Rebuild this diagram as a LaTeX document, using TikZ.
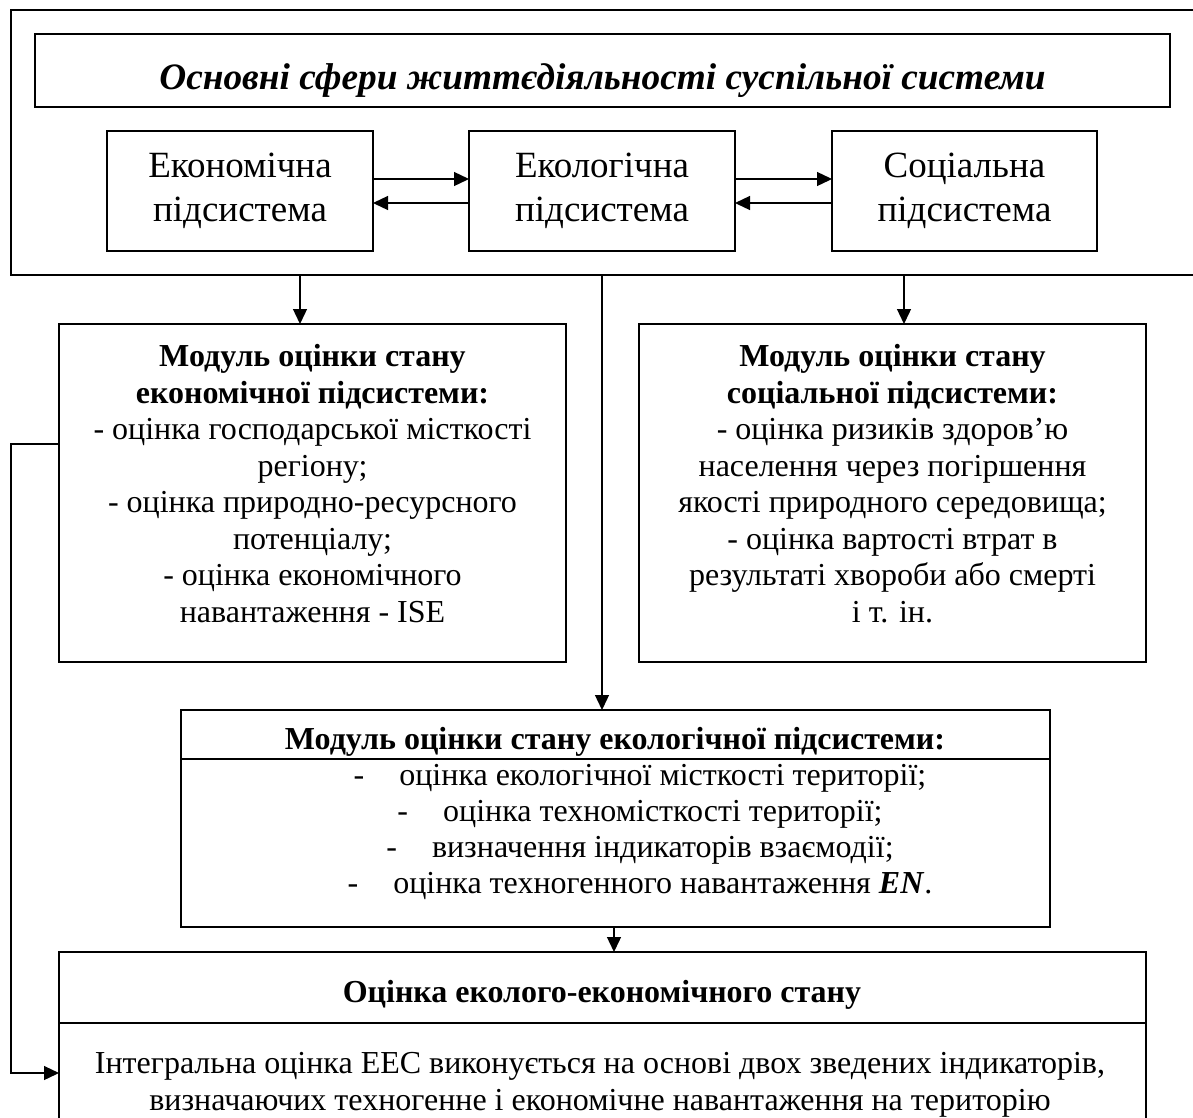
\documentclass[tikz,border=0pt]{standalone}
\usepackage{fontspec}
\setmainfont{Liberation Serif}
\usetikzlibrary{arrows.meta}
\newcommand\fsTitle{\fontsize{37.3}{44}\selectfont}
\newcommand\fsSub{\fontsize{37}{44}\selectfont}
\newcommand\fsBody{\fontsize{32}{36.45}\selectfont}
\newcommand\fsList{\fontsize{32}{36}\selectfont}
\tikzset{
  box/.style={draw, line width=1.3pt, rectangle, inner sep=0pt, outer sep=0pt},
  txt/.style={inner sep=0pt, outer sep=0pt, align=center, anchor=base},
  arr/.style={line width=1.3pt, -{Triangle[length=15pt,width=14pt]}},
  ln/.style={line width=1.3pt}
}
\begin{document}
\begin{tikzpicture}[x=1pt, y=-1pt]
\useasboundingbox (0,0) rectangle (1193,1117);
% outer frame (right side beyond picture)
\node[box, minimum width=1194pt, minimum height=265pt] (outer) at (608,142.5) {};
\node[box, minimum width=1135pt, minimum height=73pt] (titleBox) at (602.5,70.5) {};
\node[txt, font=\fsTitle\bfseries\itshape] (titleTxt) at (602.5,89) {Основні сфери життєдіяльності суспільної системи};
% subsystems
\node[box, minimum width=266pt, minimum height=120pt] (econ) at (240,191) {};
\node[box, minimum width=266pt, minimum height=120pt] (eco) at (602,191) {};
\node[box, minimum width=265pt, minimum height=120pt] (soc) at (964.5,191) {};
\node[txt, font=\fsSub] (econTxt) at (240,221) {Економічна\\підсистема};
\node[txt, font=\fsSub] (ecoTxt) at (602,221) {Екологічна\\підсистема};
\node[txt, font=\fsSub] (socTxt) at (964.5,221) {Соціальна\\підсистема};
\draw[arr] (econ.east |- 0,179) -- (eco.west |- 0,179);
\draw[arr] (eco.west |- 0,203) -- (econ.east |- 0,203);
\draw[arr] (eco.east |- 0,179) -- (soc.west |- 0,179);
\draw[arr] (soc.west |- 0,203) -- (eco.east |- 0,203);
% modules
\node[box, minimum width=507pt, minimum height=338pt] (econMod) at (312.5,493) {};
\node[box, minimum width=507pt, minimum height=338pt] (socMod) at (892.5,493) {};
\node[txt, font=\fsBody] (econModTxt) at (312.5,622) {\textbf{Модуль оцінки стану}\\\textbf{економічної підсистеми:}\\- оцінка господарської місткості\\регіону;\\- оцінка природно-ресурсного\\потенціалу;\\- оцінка економічного\\навантаження - ISE};
\node[txt, font=\fsBody] (socModTxt) at (892.5,622) {\textbf{Модуль оцінки стану}\\\textbf{соціальної підсистеми:}\\- оцінка ризиків здоров’ю\\населення через погіршення\\якості природного середовища;\\- оцінка вартості втрат в\\результаті хвороби або смерті\\і т. ін.};
\coordinate (eA) at (300,275);
\coordinate (sA) at (904,275);
\coordinate (cA) at (602,275);
\draw[arr] (eA) -- (eA |- econMod.north);
\draw[arr] (sA) -- (sA |- socMod.north);
% ecological module
\node[box, minimum width=869pt, minimum height=217pt] (ecoMod) at (615.5,818.5) {};
\draw[ln] (ecoMod.west |- 0,759) -- (ecoMod.east |- 0,759);
\draw[arr] (cA) -- (cA |- ecoMod.north);
\node[txt, font=\fsBody\bfseries] (ecoHead) at (615,749) {Модуль оцінки стану екологічної підсистеми:};
\node[txt, font=\fsList] (ecoList) at (640,893) {%
-\hspace{35pt}оцінка екологічної місткості території;\\
-\hspace{35pt}оцінка техномісткості території;\\
-\hspace{35pt}визначення індикаторів взаємодії;\\
-\hspace{35pt}оцінка техногенного навантаження \textbf{\textit{EN}}.};
% final box
\node[box, minimum width=1087pt, minimum height=183pt] (finalBox) at (602.5,1043.5) {};
\draw[ln] (finalBox.west |- 0,1023) -- (finalBox.east |- 0,1023);
\node[txt, font=\fsBody\bfseries] (finalHead) at (602,1002) {Оцінка еколого-економічного стану};
\node[txt, font=\fontsize{32}{37}\selectfont] (finalBody) at (600,1110) {Інтегральна оцінка ЕЕС виконується на основі двох зведених індикаторів,\\визначаючих техногенне і економічне навантаження на територію};
\coordinate (dA) at (614,927);
\draw[arr] (dA) -- (dA |- finalBox.north);
% feedback
\coordinate (fbTop) at (11,444);
\coordinate (fbBot) at (11,1073);
\draw[arr] (fbTop -| econMod.west) -- (fbTop) -- (fbBot) -- (fbBot -| finalBox.west);
\end{tikzpicture}
\end{document}
